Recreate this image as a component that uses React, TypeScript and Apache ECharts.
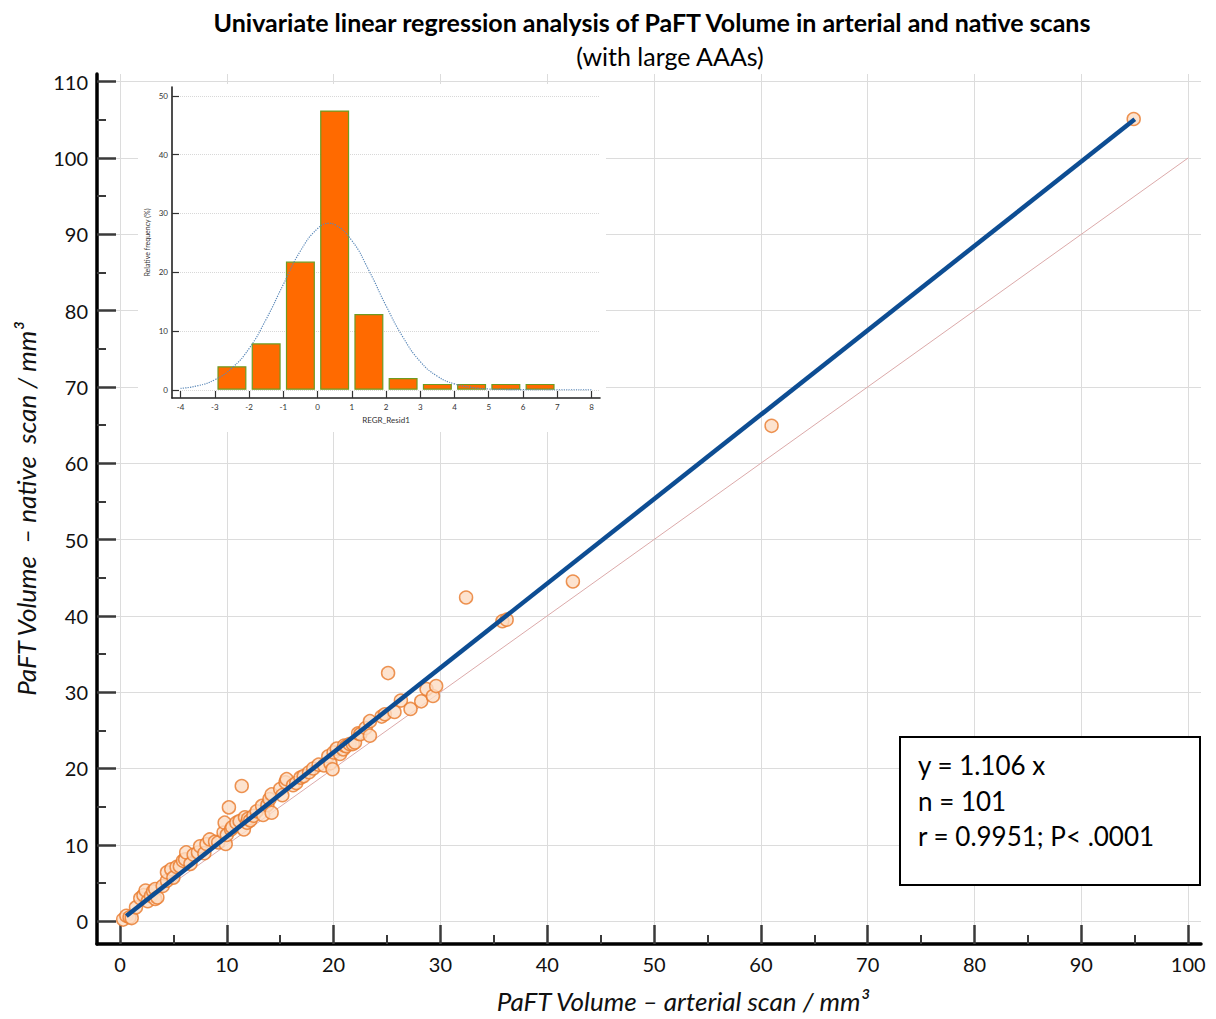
import React, { useEffect, useRef } from "react";
import * as echarts from "echarts";

// ---------- texts ----------
const titleText =
  "Univariate linear regression analysis of PaFT Volume in arterial and native scans";
const subtitleText = "(with large AAAs)";
const xAxisName = "PaFT Volume – arterial scan / mm³";
const yAxisName = "PaFT Volume  – native  scan / mm³";
const statsLines = ["y = 1.106 x", "n = 101", "r = 0.9951; P< .0001"];
const insetXName = "REGR_Resid1";
const insetYName = "Relative frequency (%)";

// ---------- main axes ----------
const xTicks = [0, 10, 20, 30, 40, 50, 60, 70, 80, 90, 100];
const yTicks = [0, 10, 20, 30, 40, 50, 60, 70, 80, 90, 100, 110];

// ---------- scatter data (arterial x, native y) ----------
const arterial = [
  0.3, 0.6, 0.9, 1.1, 1.5, 1.9, 2.2, 2.4, 2.6, 2.9, 3.1, 3.3, 3.3, 3.5, 4.0,
  4.4, 4.4, 4.8, 5.0, 5.3, 5.6, 5.9, 6.1, 6.2, 6.6, 6.9, 7.3, 7.5, 7.9, 8.1,
  8.4, 8.9, 9.2, 9.7, 9.8, 9.9, 10.0, 10.2, 10.4, 10.5, 10.9, 11.2, 11.4, 11.6,
  11.7, 11.9, 12.0, 12.2, 12.5, 12.8, 13.3, 13.4, 13.8, 14.0, 14.2, 14.2, 15.0,
  15.2, 15.5, 15.6, 16.2, 16.5, 16.9, 17.2, 17.7, 18.1, 18.6, 19.1, 19.5, 19.7,
  19.9, 20.0, 20.3, 20.6, 20.9, 21.0, 21.2, 21.5, 21.8, 22.0, 22.3, 22.5, 23.0,
  23.4, 23.4, 24.5, 24.8, 25.1, 25.7, 26.3, 27.2, 28.2, 28.7, 29.3, 29.6, 32.4,
  35.8, 36.2, 42.4, 61.0, 94.9,
];
const native = [
  0.2, 0.7, 0.5, 0.4, 1.8, 3.0, 3.4, 4.0, 2.6, 3.3, 3.9, 4.2, 2.9, 3.1, 4.6,
  5.3, 6.4, 6.8, 5.7, 7.1, 7.2, 7.9, 8.1, 9.0, 7.5, 8.7, 9.0, 9.8, 8.9, 10.1,
  10.7, 10.4, 10.3, 11.6, 12.9, 10.1, 11.3, 14.9, 12.0, 12.3, 12.9, 13.1, 17.7, 12.0,
  13.6, 12.9, 13.4, 13.2, 13.8, 14.4, 15.1, 13.9, 15.2, 16.0, 14.2, 16.6, 17.3,
  16.5, 18.2, 18.6, 17.8, 18.1, 18.8, 19.0, 19.5, 20.0, 20.5, 20.4, 21.6, 20.7,
  19.9, 22.1, 22.6, 21.9, 22.5, 23.0, 22.9, 23.2, 23.2, 23.4, 24.6, 24.5, 25.3,
  24.3, 26.2, 26.8, 27.1, 32.5, 27.4, 28.9, 27.8, 28.8, 30.4, 29.5, 30.8, 42.4,
  39.3, 39.5, 44.5, 64.9, 105.1,
];

// ---------- fitted lines ----------
const slope = 1.106;
const regX = [0.6, 95];
const identityX = [0, 100];

// ---------- inset histogram ----------
const insetXTicks = [-4, -3, -2, -1, 0, 1, 2, 3, 4, 5, 6, 7, 8];
const insetYTicks = [0, 10, 20, 30, 40, 50];
const residCenters = [-2.5, -1.5, -0.5, 0.5, 1.5, 2.5, 3.5, 4.5, 5.5, 6.5];
const residFreq = [4.0, 7.9, 21.8, 47.5, 12.9, 2.0, 1.0, 1.0, 1.0, 1.0];
const curveX = [
  -4, -3.5, -3, -2.5, -2, -1.5, -1, -0.5, 0, 0.35, 0.5, 1, 1.5, 2, 2.5, 3, 3.5,
  4, 4.5, 5, 5.5, 6, 7, 8,
];
const curveY = [
  0.24, 0.68, 1.7, 3.7, 7.0, 12.0, 17.9, 23.6, 27.4, 28.3, 28.1, 25.4, 20.3,
  14.3, 8.9, 4.8, 2.3, 1.0, 0.4, 0.13, 0.04, 0.01, 0, 0,
];

const FONT = "Lato, 'Open Sans', sans-serif";

export default function App() {
  const ref = useRef<HTMLDivElement>(null);

  useEffect(() => {
    if (!ref.current) return;
    const chart = echarts.init(ref.current, null, { renderer: "svg" });

    const scatterData = arterial.map((x, i) => [x, native[i]]);
    const regData = regX.map((x) => [x, +(slope * x).toFixed(3)]);
    const identityData = identityX.map((x) => [x, x]);
    const barData = residCenters.map((c, i) => [c, residFreq[i]]);
    const curveData = curveX.map((x, i) => [x, curveY[i]]);

    const tickColor = "#3a3a3a";

    const option: any = {
      animation: false,
      backgroundColor: "#ffffff",
      grid: [
        { left: 97, top: 74, width: 1104, height: 871 },
        { left: 172, top: 87, width: 428, height: 311 },
      ],
      xAxis: [
        {
          type: "value",
          gridIndex: 0,
          min: -2.15,
          max: 101.2,
          splitNumber: 10,
          minInterval: 10,
          maxInterval: 10,
          z: 0,
          axisLine: { show: true, onZero: false, lineStyle: { color: "#000", width: 3.5 } },
          axisTick: {
            show: true,
            inside: true,
            length: 19,
            customValues: xTicks,
            lineStyle: { color: tickColor, width: 2.5 },
          },
          minorTick: { show: true, splitNumber: 2, length: 9, lineStyle: { color: tickColor, width: 2 } },
          axisLabel: {
            customValues: xTicks,
            margin: 10,
            fontSize: 20,
            fontFamily: FONT,
            color: "#111",
          },
          splitLine: { show: true, lineStyle: { color: "#dcdcdc", width: 1 } },
          name: xAxisName,
          nameLocation: "middle",
          nameGap: 44,
          nameTextStyle: {
            fontSize: 26,
            fontStyle: "italic",
            fontFamily: FONT,
            color: "#111",
            padding: [0, 0, 0, 68],
          },
        },
        {
          type: "value",
          gridIndex: 1,
          min: -4.25,
          max: 8.25,
          splitNumber: 12,
          minInterval: 1,
          maxInterval: 1,
          z: 5,
          axisLine: { show: true, onZero: false, lineStyle: { color: "#222", width: 1.6 } },
          axisTick: {
            show: true,
            inside: true,
            length: 7,
            customValues: insetXTicks,
            lineStyle: { color: "#333", width: 1.2 },
          },
          axisLabel: {
            customValues: insetXTicks,
            margin: 5,
            fontSize: 8,
            fontFamily: FONT,
            color: "#333",
          },
          splitLine: { show: false },
          name: insetXName,
          nameLocation: "middle",
          nameGap: 18,
          nameTextStyle: { fontSize: 8, fontFamily: FONT, color: "#333" },
        },
      ],
      yAxis: [
        {
          type: "value",
          gridIndex: 0,
          min: -3,
          max: 111,
          splitNumber: 11,
          minInterval: 10,
          maxInterval: 10,
          z: 0,
          axisLine: { show: true, onZero: false, lineStyle: { color: "#000", width: 3.5 } },
          axisTick: {
            show: true,
            inside: true,
            length: 19,
            customValues: yTicks,
            lineStyle: { color: tickColor, width: 2.5 },
          },
          minorTick: { show: true, splitNumber: 2, length: 9, lineStyle: { color: tickColor, width: 2 } },
          axisLabel: {
            customValues: yTicks,
            margin: 9,
            fontSize: 20,
            fontFamily: FONT,
            color: "#111",
          },
          splitLine: { show: true, lineStyle: { color: "#dcdcdc", width: 1 } },
          name: yAxisName,
          nameLocation: "middle",
          nameRotate: 90,
          nameGap: 58,
          nameTextStyle: { fontSize: 26, fontStyle: "italic", fontFamily: FONT, color: "#111" },
        },
        {
          type: "value",
          gridIndex: 1,
          min: -1.4,
          max: 51.5,
          splitNumber: 5,
          minInterval: 10,
          maxInterval: 10,
          z: 5,
          axisLine: { show: true, onZero: false, lineStyle: { color: "#222", width: 1.6 } },
          axisTick: {
            show: true,
            inside: true,
            length: 7,
            customValues: insetYTicks,
            lineStyle: { color: "#333", width: 1.2 },
          },
          axisLabel: {
            customValues: insetYTicks,
            margin: 4,
            fontSize: 8,
            fontFamily: FONT,
            color: "#333",
          },
          splitLine: { show: true, lineStyle: { color: "#d8d8d8", width: 1, type: "dotted" } },
          name: insetYName,
          nameLocation: "middle",
          nameRotate: 90,
          nameGap: 22,
          nameTextStyle: { fontSize: 7, fontFamily: FONT, color: "#333" },
        },
      ],
      series: [
        {
          type: "line",
          name: "identity",
          xAxisIndex: 0,
          yAxisIndex: 0,
          data: identityData,
          showSymbol: false,
          symbol: "none",
          lineStyle: { color: "#dcaaaa", width: 1 },
          z: 2,
        },
        {
          type: "scatter",
          name: "scans",
          xAxisIndex: 0,
          yAxisIndex: 0,
          data: scatterData,
          symbol: "circle",
          symbolSize: 13,
          itemStyle: { color: "#fddcc3", borderColor: "#e8792b", borderWidth: 1.5 },
          z: 3,
        },
        {
          type: "line",
          name: "regression",
          xAxisIndex: 0,
          yAxisIndex: 0,
          data: regData,
          showSymbol: false,
          symbol: "none",
          lineStyle: { color: "#0d4d93", width: 4.5 },
          z: 4,
        },
        {
          type: "bar",
          name: "residuals",
          xAxisIndex: 1,
          yAxisIndex: 1,
          data: barData,
          barWidth: 29,
          itemStyle: { color: "#ff6a00", borderColor: "#6e9b22", borderWidth: 1.2 },
          z: 6,
        },
        {
          type: "line",
          name: "normal",
          xAxisIndex: 1,
          yAxisIndex: 1,
          data: curveData,
          smooth: true,
          showSymbol: false,
          symbol: "none",
          lineStyle: { color: "#5a88b8", width: 1.2, type: "dotted" },
          z: 7,
        },
      ],
      graphic: [
        {
          type: "rect",
          z: 1,
          silent: true,
          shape: { x: 138, y: 84, width: 468, height: 348 },
          style: { fill: "#ffffff" },
        },
        {
          type: "text",
          z: 10,
          x: 652,
          y: 22,
          style: {
            text: titleText,
            align: "center",
            verticalAlign: "middle",
            fontSize: 25,
            fontWeight: "bold",
            fontFamily: FONT,
            fill: "#000",
          },
        },
        {
          type: "text",
          z: 10,
          x: 670,
          y: 56,
          style: {
            text: subtitleText,
            align: "center",
            verticalAlign: "middle",
            fontSize: 25,
            fontFamily: FONT,
            fill: "#000",
          },
        },
        {
          type: "rect",
          z: 10,
          shape: { x: 900, y: 737, width: 300, height: 148 },
          style: { fill: "#ffffff", stroke: "#000", lineWidth: 2 },
        },
        ...statsLines.map((t, i) => ({
          type: "text",
          z: 11,
          x: 918,
          y: 765 + i * 35.5,
          style: {
            text: t,
            align: "left",
            verticalAlign: "middle",
            fontSize: 26,
            fontFamily: FONT,
            fill: "#000",
          },
        })),
      ],
    };

    chart.setOption(option);
    return () => chart.dispose();
  }, []);

  return (
    <div
      ref={ref}
      style={{ position: "absolute", left: 0, top: 0, width: 1216, height: 1019, background: "#fff" }}
    />
  );
}
